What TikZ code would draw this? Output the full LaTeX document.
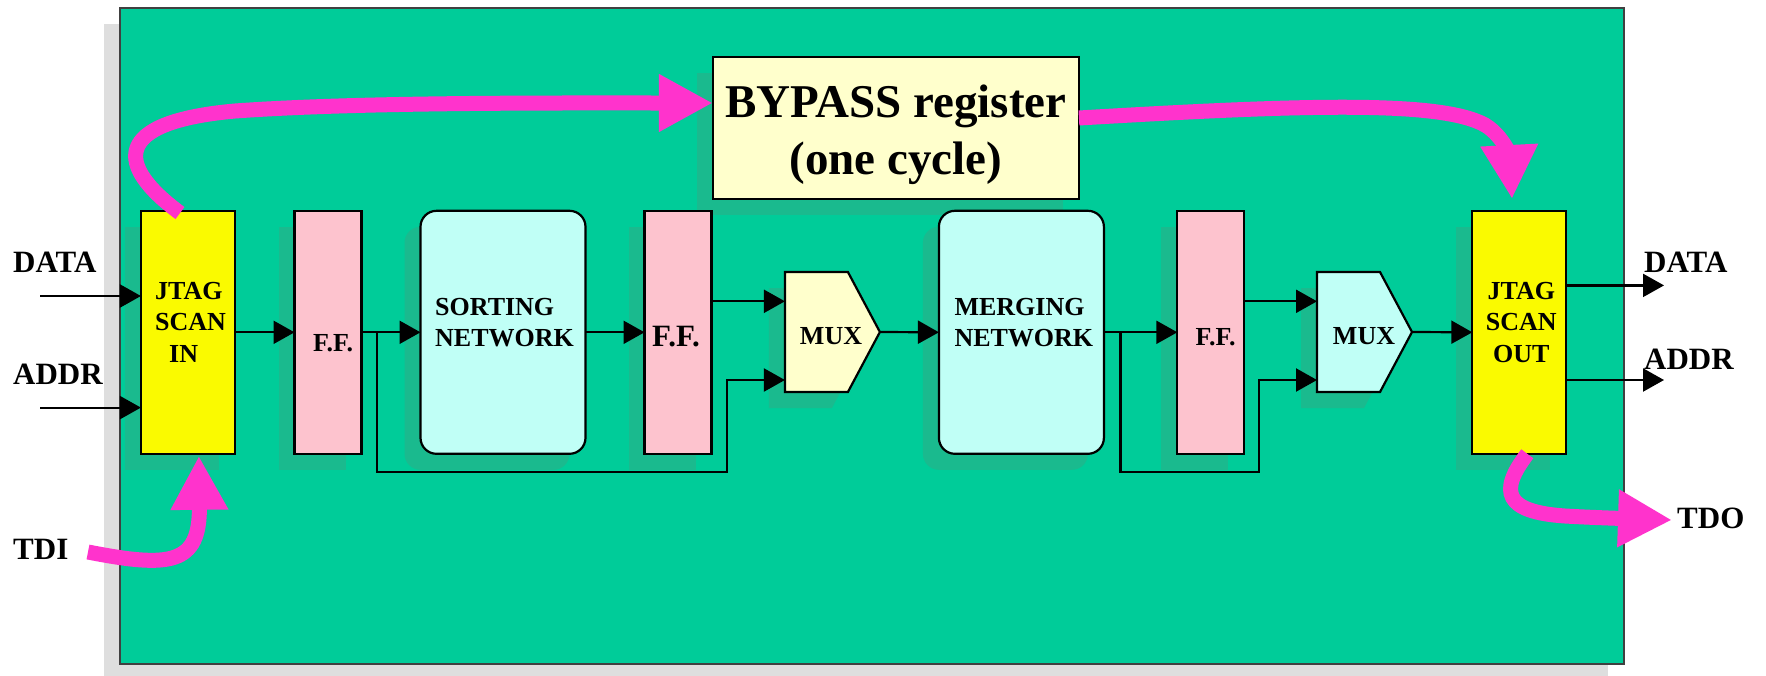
\documentclass[tikz,border=0pt]{standalone}
\usepackage{fontspec}
\setmainfont{Liberation Serif}
\usetikzlibrary{arrows.meta,shadows,calc}

\definecolor{boardgreen}{RGB}{0,204,153}
\definecolor{boxshade}{RGB}{26,186,142}
\definecolor{pageshade}{RGB}{222,222,222}
\definecolor{scanyellow}{RGB}{250,250,0}
\definecolor{ffpink}{RGB}{253,195,206}
\definecolor{netcyan}{RGB}{192,255,246}
\definecolor{paleyellow}{RGB}{255,255,204}
\definecolor{scanpink}{RGB}{255,51,204}

\tikzset{
  blk/.style={draw=black, line width=2.2pt, inner sep=0pt, outer sep=0pt,
    general shadow={fill=boxshade, shadow xshift=-16pt, shadow yshift=-16pt}},
  scanbox/.style={blk, fill=scanyellow, minimum width=94pt, minimum height=243pt},
  ffbox/.style={blk, fill=ffpink, minimum width=67pt, minimum height=243pt},
  netbox/.style={blk, fill=netcyan, rounded corners=16pt, minimum width=165pt, minimum height=243pt},
  muxframe/.style={inner sep=0pt, outer sep=0pt, minimum width=95pt, minimum height=120pt},
  muxbody/.style={draw=black, line width=2.2pt,
    general shadow={fill=boxshade, shadow xshift=-16pt, shadow yshift=-16pt}},
  wire/.style={line width=2.2pt, -{Triangle[length=21pt,width=23pt]}},
  scan/.style={draw=scanpink, line width=15pt, -{Triangle[length=54pt,width=54pt]}, color=scanpink},
  lab/.style={font=\fontsize{31}{36}\selectfont\bfseries, inner sep=0pt, anchor=base west},
  blktxt/.style={font=\fontsize{26}{31.5}\selectfont\bfseries, inner sep=0pt},
  bigtxt/.style={font=\fontsize{31}{36}\selectfont\bfseries, inner sep=0pt},
  byptxt/.style={font=\fontsize{47}{57}\selectfont\bfseries, inner sep=0pt, anchor=base}
}

\begin{document}
\begin{tikzpicture}[x=1pt, y=-1pt]
\useasboundingbox (0,0) rectangle (1766,675);
\fill[white] (0,0) rectangle (1766,675);
\clip (0,0) rectangle (1766,675);

% board with its drop shadow
\fill[pageshade] (104,24) rectangle (1608,680);
\node[draw=black!75, line width=1.4pt, fill=boardgreen, inner sep=0pt, outer sep=0pt,
      minimum width=1504pt, minimum height=656pt] (board) at (872,336) {};

% blocks
\node[blk, fill=paleyellow, minimum width=366pt, minimum height=142pt] (byp) at (895.9,128) {};
\node[scanbox] (jin) at (187.9,332.3) {};
\node[ffbox] (ff1) at (328,332.3) {};
\node[netbox] (sort) at (503,332.3) {};
\node[ffbox] (ff2) at (678,332.3) {};
\node[muxframe] (mux1) at (832.4,332) {};
\node[netbox] (merge) at (1021.4,332.3) {};
\node[ffbox] (ff3) at (1210.8,332.3) {};
\node[muxframe] (mux2) at (1364.5,332) {};
\node[scanbox] (jout) at (1519.3,332.3) {};

% multiplexer outlines
\draw[muxbody, fill=paleyellow] (mux1.north west) -- ([xshift=-32pt]mux1.north east) -- (mux1.east)
  -- ([xshift=-32pt]mux1.south east) -- (mux1.south west) -- cycle;
\draw[muxbody, fill=netcyan] (mux2.north west) -- ([xshift=-32pt]mux2.north east) -- (mux2.east)
  -- ([xshift=-32pt]mux2.south east) -- (mux2.south west) -- cycle;

% block texts
\node[blktxt, align=left, anchor=west] (jinT) at (155,322.3) {JTAG\\SCAN\\\hspace*{14pt}IN};
\node[blktxt, anchor=base] (ff1T) at (333,351.7) {F.F.};
\node[blktxt, align=left, anchor=west] (sortT) at (435,322.6) {SORTING\\NETWORK};
\node[bigtxt, anchor=base] (ff2T) at (676,346.5) {F.F.};
\node[blktxt, anchor=base] (mux1T) at (831,344.4) {MUX};
\node[blktxt, align=left, anchor=west] (mergeT) at (954.3,322.6) {MERGING\\NETWORK};
\node[blktxt, anchor=base] (ff3T) at (1215.6,345.7) {F.F.};
\node[blktxt, anchor=base] (mux2T) at (1364,344.4) {MUX};
\node[blktxt, align=center] (joutT) at (1521.3,322.3) {JTAG\\SCAN\\OUT};
\node[byptxt] (bypT1) at (895.8,117) {BYPASS register};
\node[byptxt] (bypT2) at (895.7,174.5) {(one cycle)};

% port labels
\node[lab] (dataInL) at (13,272) {DATA};
\node[lab] (addrInL) at (13,384) {ADDR};
\node[lab] (tdiL) at (13,559) {TDI};
\node[lab] (dataOutL) at (1644,272) {DATA};
\node[lab] (addrOutL) at (1644,369) {ADDR};
\node[lab] (tdoL) at (1677,528) {TDO};

% data path
\coordinate (din) at (40,296);
\coordinate (ain) at (40,407.6);
\draw[wire] (din) -- (din -| jin.west);
\draw[wire] (ain) -- (ain -| jin.west);
\draw[wire] (jin.east) -- (ff1.west);
\draw[wire] (ff1.east) -- (sort.west);
\draw[wire] (sort.east) -- (ff2.west);
\coordinate (m1up) at ([yshift=30.7pt]mux1.west);
\coordinate (m1lo) at ([yshift=-48pt]mux1.west);
\coordinate (br1) at (377,332.3);
\coordinate (k1) at (726.6,472);
\draw[wire] (m1up -| ff2.east) -- (m1up);
\draw[wire] (br1) -- ++(0,140) -| (k1 |- m1lo) -- (m1lo);
\draw[wire] (mux1.east) -- (merge.west);
\draw[wire] (merge.east) -- (ff3.west);
\coordinate (m2up) at ([yshift=30.7pt]mux2.west);
\coordinate (m2lo) at ([yshift=-48pt]mux2.west);
\coordinate (br2) at (1120.4,332.3);
\coordinate (k2) at (1259.3,472);
\draw[wire] (m2up -| ff3.east) -- (m2up);
\draw[wire] (br2) -- ++(0,140) -| (k2 |- m2lo) -- (m2lo);
\draw[wire] (mux2.east) -- (jout.west);
\coordinate (dout) at (1664,285.4);
\coordinate (aout) at (1664,380);
\draw[wire] (dout -| jout.east) -- (dout);
\draw[wire] (aout -| jout.east) -- (aout);

% scan chain
\coordinate (s1) at (180,213);
\draw[scan] (s1) .. controls (115,165) and (112,122) .. (235,111)
  .. controls (360,102) and (560,103) .. ([yshift=25pt]byp.west);
\coordinate (t2) at (1512,199);
\draw[scan] ([yshift=10pt]byp.east) .. controls (1300,105) and (1440,100) .. (1485,125)
  .. controls (1505,137) and (1510,160) .. (t2);
\coordinate (tdiS) at (88,552);
\coordinate (tdiE) at ([xshift=11pt,yshift=-2pt]jin.south);
\draw[scan] (tdiS) .. controls (170,568) and (200,565) .. (tdiE);
\coordinate (tdoS) at ([xshift=8pt]jout.south);
\coordinate (tdoE) at (1672,520);
\draw[scan] (tdoS) .. controls (1498,492) and (1505,512) .. (1565,516)
  .. controls (1600,518) and (1640,519) .. (tdoE);
\end{tikzpicture}
\end{document}
